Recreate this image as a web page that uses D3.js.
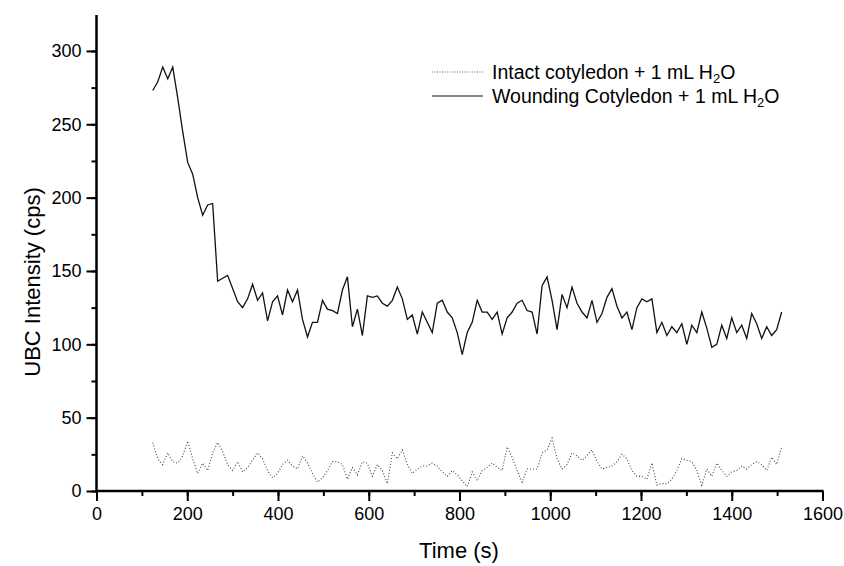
<!DOCTYPE html>
<html><head><meta charset="utf-8">
<script src="https://cdn.jsdelivr.net/npm/d3@7"></script>
<style>
body{margin:0;background:#fff;}
text{font-family:Arial,"Liberation Sans",sans-serif;fill:#000;}
</style></head>
<body><svg id="c" width="844" height="566"></svg>
<script>
const times = [124,135,146,157,168,179,190,201,212,223,234,245,256,267,278,289,300,311,322,333,344,355,366,377,388,399,410,421,432,443,454,465,476,487,498,509,520,531,542,553,564,575,586,597,608,619,630,641,652,663,674,685,696,707,718,729,740,751,762,773,784,795,806,817,828,839,850,861,872,883,894,905,916,927,938,949,960,971,982,993,1004,1015,1026,1037,1048,1059,1070,1081,1092,1103,1114,1125,1136,1147,1158,1169,1180,1191,1202,1213,1224,1235,1246,1257,1268,1279,1290,1301,1312,1323,1334,1345,1356,1367,1378,1389,1400,1411,1422,1433,1444,1455,1466,1477,1488,1499,1510];
const wounding = [273,279,289,281,289,268,245,224,216,200,188,195,196,143,145,147,138,129,125,131,141,130,135,116,129,133,120,137,129,137,117,105,115,115,130,124,123,121,137,146,112,124,106,133,132,133,128,126,130,139,131,117,120,107,122,115,108,128,130,122,118,108,93,108,115,130,122,122,117,122,107,118,122,128,130,123,122,107,140,146,130,110,134,125,139,128,122,118,130,115,121,132,138,126,118,122,110,125,131,129,131,108,115,106,112,108,114,100,113,108,122,111,98,100,113,104,118,108,113,104,121,114,104,112,106,110,122];
const intact = [33,22,18,26,20,19,24,34,22,12,19,14,26,33,27,18,14,20,13,16,21,26,22,14,9,12,18,21,17,15,24,19,12,6,9,14,20,20,18,8,16,11,20,19,10,18,14,5,26,22,28,18,12,15,17,17,19,17,13,10,14,11,7,3,13,7,14,16,19,16,14,30,23,14,6,15,15,15,26,28,36,22,15,18,26,24,21,24,28,20,15,16,17,20,25,22,14,10,10,8,19,4,5,5,8,14,22,21,20,14,4,15,10,19,14,10,13,14,17,15,18,20,18,14,23,18,30];
const xTicks = [0,200,400,600,800,1000,1200,1400,1600];
const yTicks = [0,50,100,150,200,250,300];
const seriesNames = ["Intact cotyledon + 1 mL H", "Wounding Cotyledon + 1 mL H"];

const svg = d3.select("#c");
const x = d3.scaleLinear().domain([0,1600]).range([96.5,822.5]);
const y = d3.scaleLinear().domain([0,324.5]).range([491,15]);

const line = d3.line().x((d,i)=>x(times[i])).y(d=>y(d));

svg.append("path").datum(intact).attr("d",line).attr("fill","none")
  .attr("stroke","#444").attr("stroke-width",1.1).attr("stroke-dasharray","1,2");
svg.append("path").datum(wounding).attr("d",line).attr("fill","none")
  .attr("stroke","#111").attr("stroke-width",1.3).attr("stroke-linejoin","miter");

// axes
const xMinor = d3.range(0,1601,100);
const yMinor = d3.range(0,325,25);
const gx = svg.append("g").attr("transform","translate(0,491)");
gx.call(d3.axisBottom(x).tickValues(xMinor).tickSize(5).tickFormat(""))
  .call(g=>g.select(".domain").remove());
gx.append("g").call(d3.axisBottom(x).tickValues(xTicks).tickSize(10).tickPadding(6).tickFormat(d3.format("d")))
  .call(g=>g.select(".domain").remove());
gx.selectAll("line").attr("stroke","#000").attr("stroke-width",2);
gx.selectAll("text").attr("font-size",18).attr("font-family","Arial, 'Liberation Sans', sans-serif").attr("fill","#000");
gx.append("line").attr("x1",x(0)-1).attr("x2",x(1600)+1).attr("stroke","#000").attr("stroke-width",2.5);

const gy = svg.append("g").attr("transform","translate(96.5,0)");
gy.call(d3.axisLeft(y).tickValues(yMinor).tickSize(5).tickFormat(""))
  .call(g=>g.select(".domain").remove());
gy.append("g").call(d3.axisLeft(y).tickValues(yTicks).tickSize(10).tickPadding(5).tickFormat(d3.format("d")))
  .call(g=>g.select(".domain").remove());
gy.selectAll("line").attr("stroke","#000").attr("stroke-width",2);
gy.selectAll("text").attr("font-size",18).attr("font-family","Arial, 'Liberation Sans', sans-serif").attr("fill","#000");
gy.append("line").attr("y1",y(324.5)).attr("y2",y(0)+1).attr("stroke","#000").attr("stroke-width",2.5);

// titles
svg.append("text").attr("x",459).attr("y",558).attr("text-anchor","middle").attr("font-size",22).text("Time (s)");
svg.append("text").attr("transform","translate(40,282) rotate(-90)").attr("text-anchor","middle").attr("font-size",22).text("UBC Intensity (cps)");

// legend
const lg = svg.append("g");
[0,1].forEach(i=>{
  const yy = 72 + i*24;
  lg.append("line").attr("x1",432).attr("x2",483).attr("y1",yy).attr("y2",yy)
    .attr("stroke", i===0?"#666":"#111").attr("stroke-width",i===0?1:1.2)
    .attr("stroke-dasharray", i===0?"1,1.5":null);
  const t = lg.append("text").attr("x",492).attr("y",yy+7).attr("font-size",19.5);
  t.append("tspan").text(seriesNames[i]);
  t.append("tspan").attr("font-size",13).attr("dy",4).text("2");
  t.append("tspan").attr("dy",-4).text("O");
});
</script></body></html>
